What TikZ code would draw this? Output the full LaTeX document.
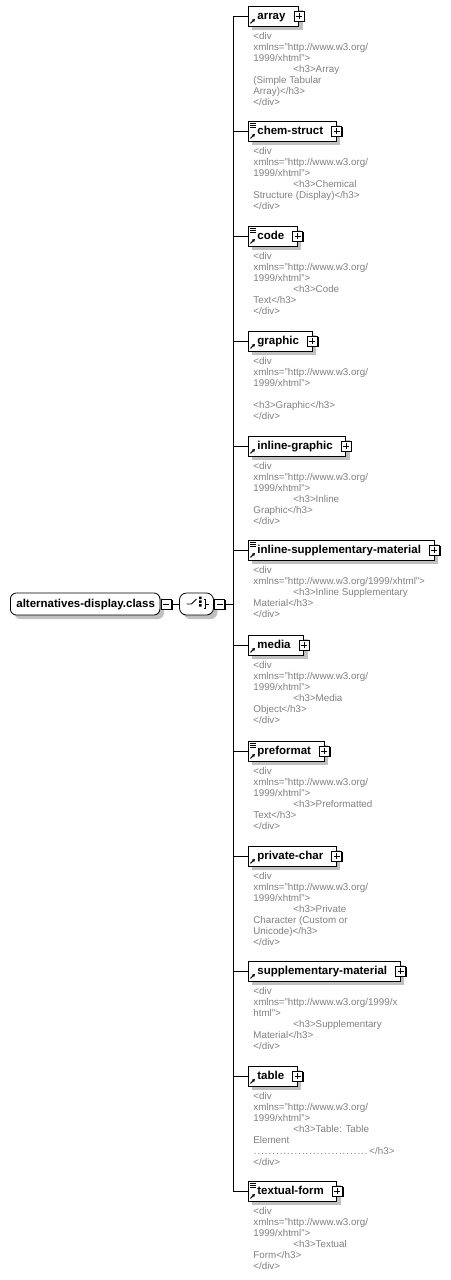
\documentclass[tikz,border=0pt]{standalone}
\usepackage{fontspec}
\setmainfont{Liberation Sans}
\usepackage{tikz}
\usetikzlibrary{arrows.meta,positioning}
\definecolor{doctext}{RGB}{128,128,128}
\definecolor{shade}{RGB}{192,192,192}
\newcommand{\docind}{\hspace*{40pt}}
\tikzset{
    every picture/.style={line width=0.8pt},
    shadowed/.style={preaction={draw=none, fill=shade, transform canvas={shift={(4pt,-4pt)}}}},
    box/.style={draw, fill=white, anchor=west, inner sep=0pt, shadowed,
        text height=8.5pt, text depth=2.5pt,
        font=\bfseries\fontsize{11.5}{13}\selectfont},
    elem/.style={box, minimum height=20pt,
        execute at begin node=\hspace*{9pt}, execute at end node=\hspace*{13pt}},
    rootbox/.style={box, rounded corners=6pt, minimum height=22pt,
        execute at begin node=\hspace*{6pt}, execute at end node=\hspace*{5pt}},
    smallbox/.style={draw, fill=white, minimum size=10pt, inner sep=0pt, line width=0.8pt,
        preaction={draw=none, fill=black, transform canvas={shift={(1.3pt,-1.3pt)}}}},
    plusbox/.style={smallbox, path picture={
        \draw ([xshift=2pt]path picture bounding box.west) -- ([xshift=-2pt]path picture bounding box.east);
        \draw ([yshift=-2pt]path picture bounding box.north) -- ([yshift=2pt]path picture bounding box.south);}},
    minusbox/.style={smallbox, path picture={
        \draw ([xshift=2pt]path picture bounding box.west) -- ([xshift=-2pt]path picture bounding box.east);}},
    seqbox/.style={draw, fill=white, rounded corners=7pt, minimum width=34pt,
        minimum height=22pt, inner sep=0pt, shadowed},
    doc/.style={anchor=north west, inner sep=0pt, align=left, text=doctext,
        font=\fontsize{9.8}{11}\selectfont},
    refarrow/.style={-{Triangle[length=2.8pt,width=3pt]}, line width=1.1pt},
}

\begin{document}
\begin{tikzpicture}[x=1pt, y=-1pt]
    \useasboundingbox (0,0) rectangle (450,1280);

    % root element and sequence compositor
    \node[rootbox] (root) at (10,604) {alternatives-display.class};
    \node[minusbox, right=0.5pt of root] (root-m) {};
    \node[seqbox] (seq) at (196.5,604) {};
    \node[minusbox, right=0.5pt of seq] (seq-m) {};
    \draw (root-m) -- (seq);
    \draw ([xshift=-10pt]seq.center) -- ++(5,0) -- ++(5,-5);
    \fill ([xshift=2.5pt,yshift=5pt]seq.center) rectangle ++(2.5,-2.5)
          ([xshift=2.5pt,yshift=1.25pt]seq.center) rectangle ++(2.5,-2.5)
          ([xshift=2.5pt,yshift=-2.5pt]seq.center) rectangle ++(2.5,-2.5);
    \draw ([xshift=7pt,yshift=4.5pt]seq.center) -- ++(2,0) -- ++(0,9) -- ++(-2,0)
          ([xshift=9pt]seq.center) -- ++(3,0);

    \coordinate (top) at (233,16);
    \coordinate (bot) at (233,1191);
    \draw (seq-m) -- (seq-m -| top);
    \draw (top) -- (bot);

    % members of the choice
    \node[elem] (array) at (248,16) {array};
    \node[doc, below right=6pt and 5pt of array.south west] (array-d)
        {<div\\xmlns="http://www.w3.org/\\1999/xhtml">\\\docind<h3>Array\\(Simple Tabular\\Array)</h3>\\</div>};

    \node[elem] (chem) at (248,131) {chem-struct};
    \node[doc, below right=6pt and 5pt of chem.south west] (chem-d)
        {<div\\xmlns="http://www.w3.org/\\1999/xhtml">\\\docind<h3>Chemical\\Structure (Display)</h3>\\</div>};

    \node[elem] (code) at (248,236) {code};
    \node[doc, below right=6pt and 5pt of code.south west] (code-d)
        {<div\\xmlns="http://www.w3.org/\\1999/xhtml">\\\docind<h3>Code\\Text</h3>\\</div>};

    \node[elem] (graphic) at (248,341) {graphic};
    \node[doc, below right=6pt and 5pt of graphic.south west] (graphic-d)
        {<div\\xmlns="http://www.w3.org/\\1999/xhtml">\\\mbox{}\\<h3>Graphic</h3>\\</div>};

    \node[elem] (igraphic) at (248,446) {inline-graphic};
    \node[doc, below right=6pt and 5pt of igraphic.south west] (igraphic-d)
        {<div\\xmlns="http://www.w3.org/\\1999/xhtml">\\\docind<h3>Inline\\Graphic</h3>\\</div>};

    \node[elem] (isupp) at (248,550) {inline-supplementary-material};
    \node[doc, below right=6pt and 5pt of isupp.south west] (isupp-d)
        {<div\\xmlns="http://www.w3.org/1999/xhtml">\\\docind<h3>Inline Supplementary\\Material</h3>\\</div>};

    \node[elem] (media) at (248,645) {media};
    \node[doc, below right=6pt and 5pt of media.south west] (media-d)
        {<div\\xmlns="http://www.w3.org/\\1999/xhtml">\\\docind<h3>Media\\Object</h3>\\</div>};

    \node[elem] (preformat) at (248,751) {preformat};
    \node[doc, below right=6pt and 5pt of preformat.south west] (preformat-d)
        {<div\\xmlns="http://www.w3.org/\\1999/xhtml">\\\docind<h3>Preformatted\\Text</h3>\\</div>};

    \node[elem] (pchar) at (248,856) {private-char};
    \node[doc, below right=6pt and 5pt of pchar.south west] (pchar-d)
        {<div\\xmlns="http://www.w3.org/\\1999/xhtml">\\\docind<h3>Private\\Character (Custom or\\Unicode)</h3>\\</div>};

    \node[elem] (supp) at (248,971) {supplementary-material};
    \node[doc, below right=6pt and 5pt of supp.south west] (supp-d)
        {<div\\xmlns="http://www.w3.org/1999/x\\html">\\\docind<h3>Supplementary\\Material</h3>\\</div>};

    \node[elem] (table) at (248,1076) {table};
    \node[doc, below right=6pt and 5pt of table.south west] (table-d)
        {<div\\xmlns="http://www.w3.org/\\1999/xhtml">\\\docind<h3>Table: Table\\Element\\\hbox to 116pt{\leaders\hbox to 3.7pt{\hss.\hss}\hfill}</h3>\\</div>};

    \node[elem] (tform) at (248,1191) {textual-form};
    \node[doc, below right=6pt and 5pt of tform.south west] (tform-d)
        {<div\\xmlns="http://www.w3.org/\\1999/xhtml">\\\docind<h3>Textual\\Form</h3>\\</div>};

    % connectors, reference arrows and expand boxes
    \foreach \n in {array,chem,code,graphic,igraphic,isupp,media,preformat,pchar,supp,table,tform} {
        \draw (top |- \n.west) -- (\n.west);
        \draw[refarrow] ([shift={(2.5pt,3pt)}]\n.south west) -- ++(4.5,-4.5);
        \node[plusbox] (\n-p) at (\n.east) {};
    }
    % documentation marks
    \foreach \n in {chem,code,isupp,preformat,tform} {
        \draw[line width=0.7pt] ([shift={(2pt,-2.5pt)}]\n.north west) -- ++(6,0)
            ([shift={(2pt,-4.5pt)}]\n.north west) -- ++(6,0)
            ([shift={(2pt,-6.5pt)}]\n.north west) -- ++(6,0);
    }
\end{tikzpicture}
\end{document}
